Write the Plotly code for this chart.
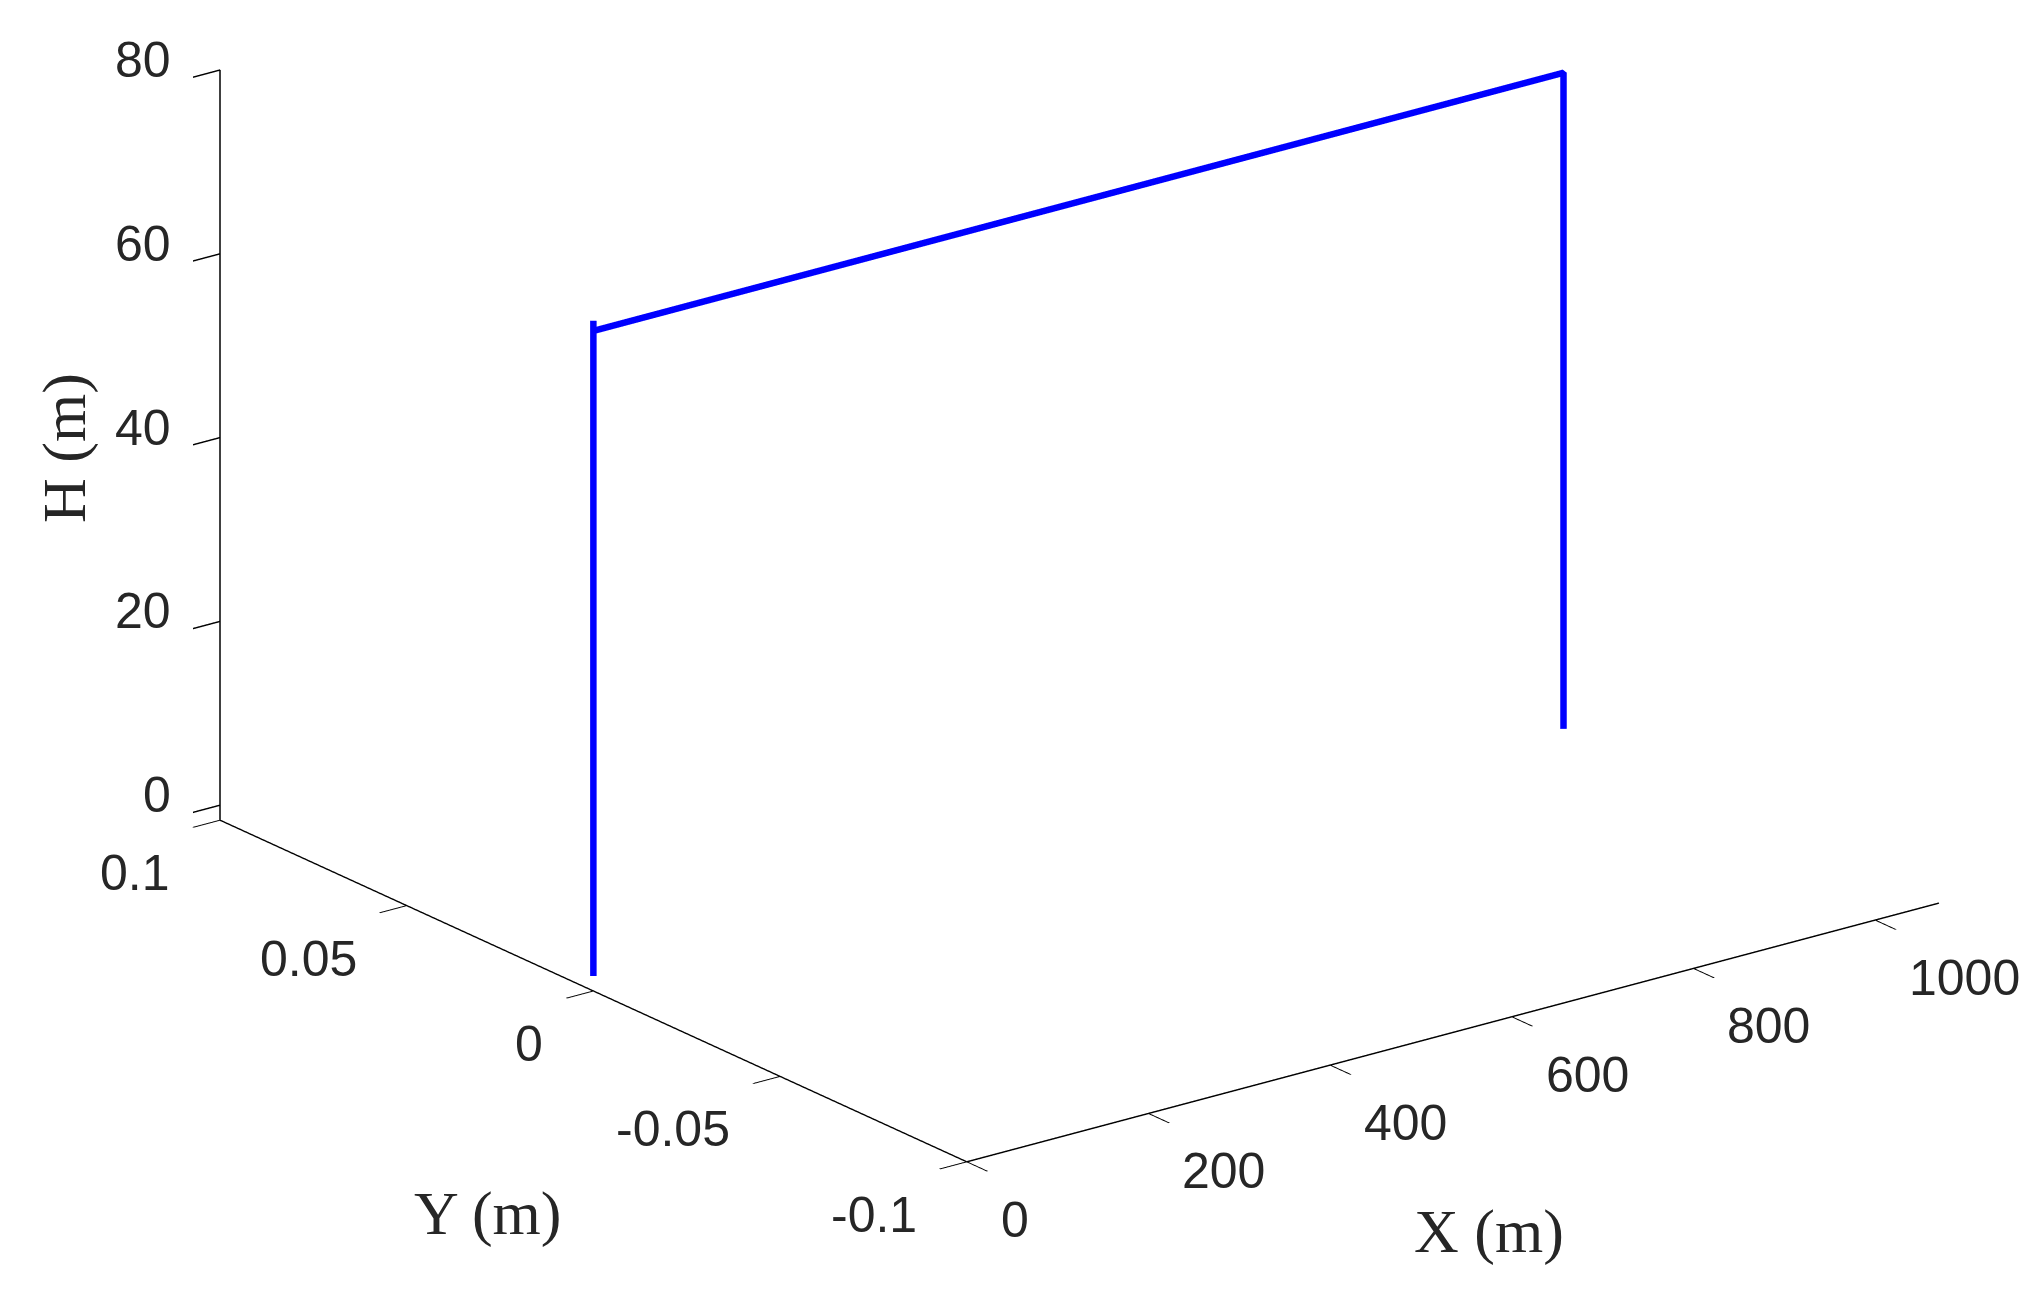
import numpy as np
import plotly.graph_objects as go

# ---- data ----
X = [0, 0, 0, 1068, 1068]
Y = [0, 0, 0, 0, 0]
H = [0, 71.3, 70.2, 70.2, -1.2]

x_ticks = [0, 200, 400, 600, 800, 1000]
x_ticktext = ["0", "200", "400", "600", "800", "1000"]
y_ticks = [-0.1, -0.05, 0, 0.05, 0.1]
y_ticktext = ["-0.1", "-0.05", "0", "0.05", "0.1"]
z_ticks = [0, 20, 40, 60, 80]
z_ticktext = ["0", "20", "40", "60", "80"]

x_range = [0, 1070]
y_range = [-0.1, 0.1]
z_range = [-1.63, 80]

# ---- view (MATLAB-like orthographic view) ----
el = np.arcsin(0.3489)
c, s = np.cos(el), np.sin(el)
hx, hy = 0.6064, 0.7951
k = 647.0  # px per world unit
Lx, Ly, Lz = 1222.4, 1231.4, 800.5
aspect = dict(x=Lx / k, y=Ly / k, z=Lz / k)
r = np.array([hy, -hx, 0.0])
v = np.array([s * hx, s * hy, c])
delta = (-52.4 * r - 168.4 * v) / k
eye_dir = np.array([-c * hx, -c * hy, s])
center = delta
eye = center + 2.0 * eye_dir

ink = "#262626"
tickfont = dict(family="Liberation Sans, Arial, sans-serif", size=50, color=ink)
titlefont = dict(family="Liberation Serif, Times New Roman, serif", size=62, color=ink)

def ax(rng, tv):
    return dict(
        title=dict(text=""),
        range=rng, tickvals=tv, autorange=False,
        showgrid=False, zeroline=False, showbackground=False,
        showline=True, linecolor="#000000", linewidth=3,
        ticks="outside", ticklen=34, tickwidth=3, tickcolor="#000000",
        showticklabels=False, showspikes=False, mirror=False,
    )

annotations = []
# x tick labels (along front-bottom edge y=min, z=min)
for val, txt in zip(x_ticks, x_ticktext):
    annotations.append(dict(x=val, y=y_range[0], z=z_range[0], text=txt,
                            showarrow=False, xanchor="left", yanchor="middle",
                            xshift=32, yshift=-58, font=tickfont))
# y tick labels (along left-bottom edge x=min, z=min)
for val, txt in zip(y_ticks, y_ticktext):
    annotations.append(dict(x=x_range[0], y=val, z=z_range[0], text=txt,
                            showarrow=False, xanchor="right", yanchor="middle",
                            xshift=-48, yshift=-53, font=tickfont))
# z tick labels (along back-left vertical edge x=min, y=max)
for val, txt in zip(z_ticks, z_ticktext):
    annotations.append(dict(x=x_range[0], y=y_range[1], z=val, text=txt,
                            showarrow=False, xanchor="right", yanchor="middle",
                            xshift=-47, yshift=10, font=tickfont))

fig = go.Figure()
fig.add_trace(go.Scatter3d(
    x=X, y=Y, z=H, mode="lines",
    line=dict(color="#0000FF", width=13),
    hoverinfo="skip", showlegend=False,
))

W, Hh = 2038, 1294
fig.update_layout(
    width=W, height=Hh,
    margin=dict(l=0, r=0, t=0, b=0),
    paper_bgcolor="white",
    hovermode=False,
    scene=dict(
        domain=dict(x=[0, 1], y=[0, 1]),
        xaxis=ax(x_range, x_ticks),
        yaxis=ax(y_range, y_ticks),
        zaxis=ax(z_range, z_ticks),
        aspectmode="manual",
        aspectratio=aspect,
        camera=dict(
            projection=dict(type="orthographic"),
            up=dict(x=0, y=0, z=1),
            center=dict(x=float(center[0]), y=float(center[1]), z=float(center[2])),
            eye=dict(x=float(eye[0]), y=float(eye[1]), z=float(eye[2])),
        ),
        bgcolor="white",
        annotations=annotations,
    ),
    annotations=[
        dict(text="X (m)", x=1481 / W, y=1 - 1223 / Hh, xref="paper", yref="paper",
             showarrow=False, xanchor="center", yanchor="middle", font=titlefont),
        dict(text="Y (m)", x=480 / W, y=1 - 1205 / Hh, xref="paper", yref="paper",
             showarrow=False, xanchor="center", yanchor="middle", font=titlefont),
        dict(text="H (m)", x=56 / W, y=1 - 440 / Hh, xref="paper", yref="paper",
             showarrow=False, xanchor="center", yanchor="middle", textangle=-90,
             font=titlefont),
    ],
)

fig.write_html("out.html")
